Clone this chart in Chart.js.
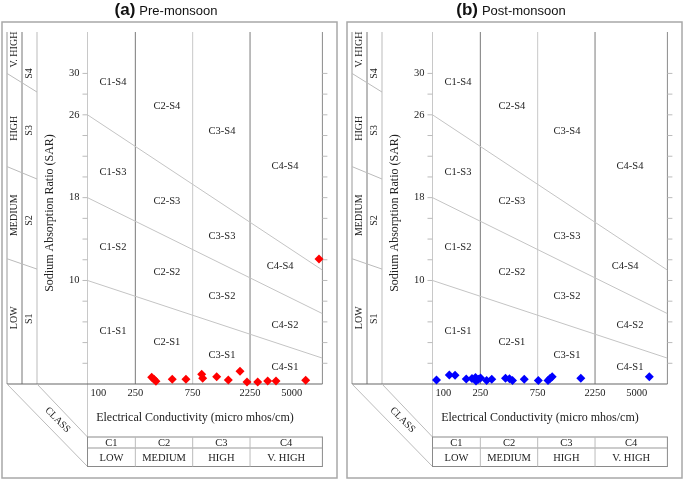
<!DOCTYPE html>
<html>
<head>
<meta charset="utf-8">
<script src="https://cdn.jsdelivr.net/npm/chart.js@4"></script>
<style>
  body { margin: 0; background: #fff; width: 685px; height: 480px; position: relative; overflow: hidden; }
  canvas { position: absolute; top: 0; }
</style>
</head>
<body>
<canvas id="preChart" width="340" height="480" style="left:0"></canvas>
<canvas id="postChart" width="340" height="480" style="left:345px"></canvas>
<script>
// EC (micro mhos/cm) and SAR of the samples
const preEC   = [342, 357, 371, 507, 659, 891, 908, 1188, 1484, 1857, 2123, 2606, 3156, 3700, 6531, 8433];
const preSAR  = [0.65, 0.45, 0.26, 0.45, 0.45, 0.94, 0.55, 0.71, 0.39, 1.23, 0.19, 0.19, 0.29, 0.29, 0.36, 12.07];
const postEC  = [108, 138, 154, 191, 213, 228, 230, 241, 251, 282, 311, 405, 437, 463, 580, 759, 914, 950, 990, 1713, 6365];
const postSAR = [0.39, 0.87, 0.84, 0.48, 0.53, 0.63, 0.29, 0.45, 0.58, 0.35, 0.46, 0.56, 0.5, 0.35, 0.46, 0.35, 0.35, 0.52, 0.7, 0.56, 0.7];

const ecTicks = [100, 250, 750, 2250, 5000];
const ecClassBreaks = [250, 750, 2250];
const sarTickLabels = [30, 26, 18, 10];
const salinityClasses = ['C1', 'C2', 'C3', 'C4'];
const salinityNames = ['LOW', 'MEDIUM', 'HIGH', 'V. HIGH'];
const sodiumNames = ['V. HIGH', 'HIGH', 'MEDIUM', 'LOW'];
const sodiumClasses = ['S4', 'S3', 'S2', 'S1'];

// sodium hazard boundaries: SAR at EC = 100 and at the right edge
const boundaryStart = [26, 18, 10];
const boundaryEnd = [11.0, 6.8, 2.5];

// zone names and where they sit (EC, SAR)
const zoneLabels = [
  ['C1-S4', 163, 29.1], ['C2-S4', 458, 26.8], ['C3-S4', 1315, 24.4], ['C4-S4', 4397, 21.0],
  ['C1-S3', 163, 20.5], ['C2-S3', 458, 17.7], ['C3-S3', 1315, 14.3],
  ['C1-S2', 163, 13.2], ['C2-S2', 458, 10.8], ['C3-S2', 1315, 8.5], ['C4-S4', 4000, 11.4],
  ['C4-S2', 4397, 5.7],
  ['C1-S1', 163, 5.1], ['C2-S1', 458, 4.0], ['C3-S1', 1315, 2.8], ['C4-S1', 4397, 1.6]
];

const EC_MIN = 100, EC_MAX = 9000, SAR_MAX = 34;
const SERIF = '"Liberation Serif", "DejaVu Serif", serif';

function line(ctx, x1, y1, x2, y2, color, w) {
  ctx.beginPath();
  ctx.strokeStyle = color;
  ctx.lineWidth = w || 1;
  ctx.moveTo(x1, y1);
  ctx.lineTo(x2, y2);
  ctx.stroke();
}

function text(ctx, str, x, y, size, align, rot) {
  ctx.save();
  ctx.translate(x, y);
  if (rot) ctx.rotate(rot);
  ctx.font = size + 'px ' + SERIF;
  ctx.fillStyle = '#222';
  ctx.textAlign = align || 'center';
  ctx.textBaseline = 'middle';
  ctx.fillText(str, 0, 0);
  ctx.restore();
}

function wilcoxPlugin(tag, title) {
  return {
    id: 'wilcox',
    beforeDatasetsDraw(chart) {
      const ctx = chart.ctx;
      const { left: L, right: R, top: T, bottom: B } = chart.chartArea;
      const xs = chart.scales.x, ys = chart.scales.y;
      ctx.save();

      // outer frame
      ctx.strokeStyle = '#a8a8a8';
      ctx.lineWidth = 1.5;
      ctx.strokeRect(2, 22, 335, 456);

      // title
      ctx.textBaseline = 'alphabetic';
      ctx.font = 'bold 17px "Liberation Sans", Arial, sans-serif';
      const wTag = ctx.measureText(tag).width;
      ctx.font = '13px "Liberation Sans", Arial, sans-serif';
      const wTitle = ctx.measureText(title).width;
      let tx = 166 - (wTag + 4 + wTitle) / 2;
      ctx.fillStyle = '#111';
      ctx.textAlign = 'left';
      ctx.font = 'bold 17px "Liberation Sans", Arial, sans-serif';
      ctx.fillText(tag, tx, 15);
      ctx.font = '13px "Liberation Sans", Arial, sans-serif';
      ctx.fillText(title, tx + wTag + 4, 15);

      // left sodium class box
      const b1 = L - 80.5, b2 = L - 65.5, b3 = L - 50.5;
      line(ctx, b1, T, b1, B, '#999');
      line(ctx, b2, T, b2, B, '#777');
      line(ctx, b3, T, b3, B, '#bbb');
      const sideStart = [30.0, 21.0, 12.1], sideEnd = [28.2, 19.8, 11.1];
      for (let i = 0; i < 3; i++) {
        line(ctx, b1, ys.getPixelForValue(sideStart[i]), b3, ys.getPixelForValue(sideEnd[i]), '#bbb');
      }
      const nameSar = [32.3, 24.7, 16.3, 6.4], classSar = [30.0, 24.5, 15.8, 6.3];
      for (let i = 0; i < 4; i++) {
        text(ctx, sodiumNames[i], (b1 + b2) / 2, ys.getPixelForValue(nameSar[i]), 10, 'center', -Math.PI / 2);
        text(ctx, sodiumClasses[i], (b2 + b3) / 2, ys.getPixelForValue(classSar[i]), 10, 'center', -Math.PI / 2);
      }

      // y axis title
      text(ctx, 'Sodium Absorption Ratio (SAR)', L - 38, 213, 12, 'center', -Math.PI / 2);

      // plot verticals
      const tableTop = B + 53, tableMid = B + 64, tableBot = B + 82.5;
      line(ctx, L, T, L, tableBot, '#c8c8c8');
      ecClassBreaks.forEach((v, i) => {
        const x = xs.getPixelForValue(v);
        line(ctx, x, T, x, B, i === 1 ? '#c8c8c8' : '#7a7a7a');
      });
      line(ctx, R, T, R, B, '#8a8a8a');

      // ticks every 2 SAR on both sides
      for (let s = 2; s <= 30; s += 2) {
        const y = ys.getPixelForValue(s);
        line(ctx, L - 5, y, L, y, '#bbb');
        line(ctx, R, y, R + 5, y, '#bbb');
      }
      sarTickLabels.forEach(s => text(ctx, String(s), L - 8, ys.getPixelForValue(s), 10.5, 'right'));

      // sodium boundaries are datasets; zone names
      zoneLabels.forEach(z => text(ctx, z[0], xs.getPixelForValue(z[1]), ys.getPixelForValue(z[2]), 10.5));

      // bottom line
      line(ctx, b1, B, R, B, '#666', 1.2);

      // x tick labels and title
      ecTicks.forEach((v, i) => {
        const x = xs.getPixelForValue(v);
        if (i === 0) text(ctx, String(v), x + 3, B + 9, 10.5, 'left');
        else text(ctx, String(v), x, B + 9, 10.5, 'center');
      });
      text(ctx, 'Electrical Conductivity (micro mhos/cm)', (L + R) / 2 - 10, B + 34, 12);

      // diagonal class leaders and CLASS label
      line(ctx, b1, B, L, tableBot, '#bbb');
      line(ctx, b3, B, L, tableTop, '#bbb');
      text(ctx, 'CLASS', L - 30, B + 36, 10, 'center', Math.PI / 4);

      // salinity class table
      ctx.strokeStyle = '#8a8a8a';
      ctx.lineWidth = 1;
      ctx.strokeRect(L, tableTop, R - L, tableBot - tableTop);
      line(ctx, L, tableMid, R, tableMid, '#999');
      const edges = [L].concat(ecClassBreaks.map(v => xs.getPixelForValue(v)), [R]);
      for (let i = 1; i < 4; i++) line(ctx, edges[i], tableTop, edges[i], tableBot, '#bbb');
      for (let i = 0; i < 4; i++) {
        const cx = (edges[i] + edges[i + 1]) / 2;
        text(ctx, salinityClasses[i], cx, (tableTop + tableMid) / 2 + 0.5, 10.5);
        text(ctx, salinityNames[i], cx, (tableMid + tableBot) / 2 + 0.5, 10.5);
      }
      ctx.restore();
    }
  };
}

function makeChart(id, ecVals, sarVals, color, tag, title) {
  const points = ecVals.map((v, i) => ({ x: v, y: sarVals[i] }));
  const boundaries = boundaryStart.map((s, i) => ({
    type: 'line',
    data: [{ x: EC_MIN, y: s }, { x: EC_MAX, y: boundaryEnd[i] }],
    borderColor: '#c4c4c4',
    borderWidth: 1,
    pointRadius: 0,
    fill: false
  }));
  return new Chart(document.getElementById(id), {
    type: 'scatter',
    data: {
      datasets: [{
        data: points,
        pointStyle: 'rectRot',
        pointRadius: 4.5,
        backgroundColor: color,
        borderColor: color,
        borderWidth: 0,
        clip: false
      }].concat(boundaries)
    },
    options: {
      responsive: false,
      animation: false,
      layout: { padding: { left: 87.5, top: 32, right: 17.6, bottom: 96 } },
      scales: {
        x: { type: 'logarithmic', min: EC_MIN, max: EC_MAX, display: false },
        y: { type: 'linear', min: 0, max: SAR_MAX, display: false }
      },
      plugins: { legend: { display: false }, tooltip: { enabled: false } }
    },
    plugins: [wilcoxPlugin(tag, title)]
  });
}

makeChart('preChart', preEC, preSAR, '#ff0000', '(a)', 'Pre-monsoon');
makeChart('postChart', postEC, postSAR, '#0000ff', '(b)', 'Post-monsoon');
</script>
</body>
</html>
